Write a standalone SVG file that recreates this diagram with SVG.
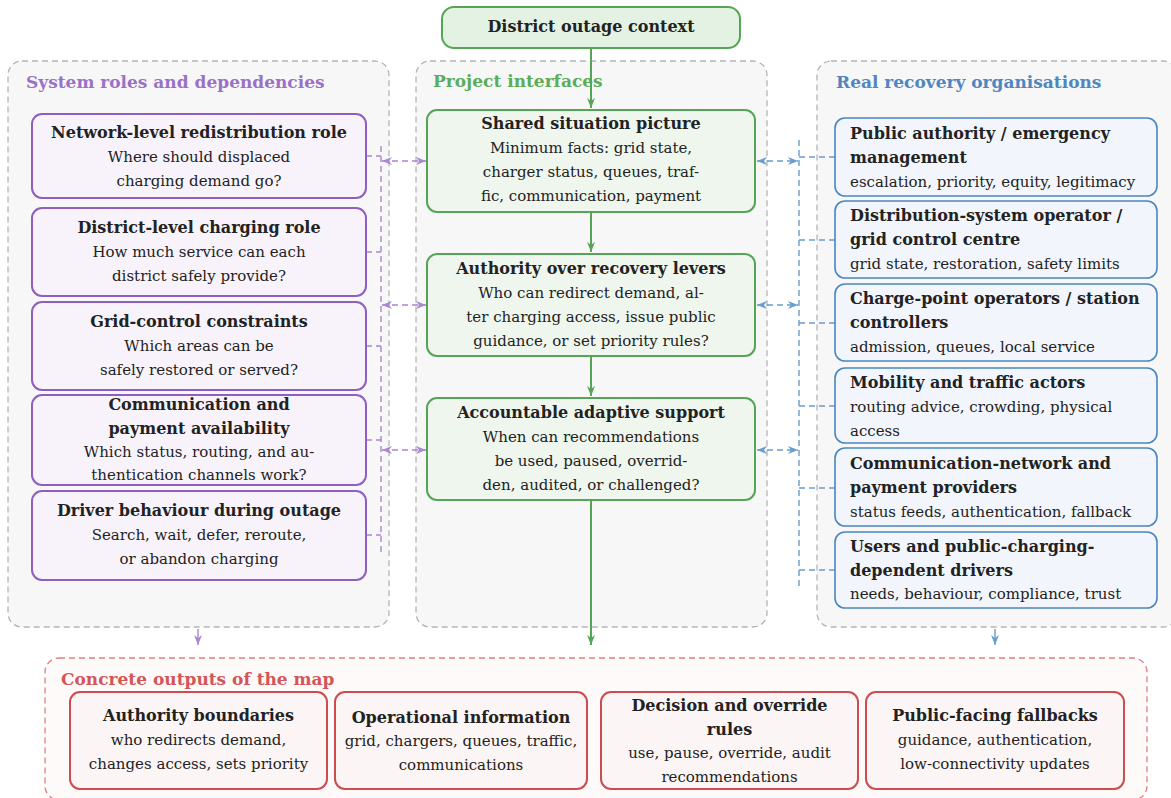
<svg xmlns="http://www.w3.org/2000/svg" width="1171" height="798" viewBox="0 0 1171 798">
<defs>
<style>
text{font-family:"DejaVu Serif","Liberation Serif",serif;font-size:15px;fill:#222}
.b{font-weight:bold;font-size:16px}
.c{text-anchor:middle}
.ttl{font-size:17px;font-weight:bold}
.cont{fill:#f7f7f7;stroke:#b5b5b5;stroke-width:1.3;stroke-dasharray:6 4}
.pbox{fill:#f8f3fb;stroke:#8e5fbf;stroke-width:2}
.gbox{fill:#eef6ee;stroke:#56a556;stroke-width:2}
.bbox{fill:#f2f6fc;stroke:#4a86c0;stroke-width:1.6}
.rbox{fill:#fcf5f5;stroke:#cc4d4f;stroke-width:2}
.garr{stroke:#56a556;stroke-width:2;fill:none}
.pd{stroke:#a987d2;stroke-width:1.4;fill:none;stroke-dasharray:6 4}
.bd{stroke:#6a9ccc;stroke-width:1.4;fill:none;stroke-dasharray:6 4}
</style>
<marker id="ag" viewBox="0 0 10 8" refX="10" refY="4" markerWidth="10" markerHeight="8" markerUnits="userSpaceOnUse" orient="auto-start-reverse"><path d="M0,0 L10,4 L0,8 L3,4 z" fill="#56a556"/></marker>
<marker id="ap" viewBox="0 0 10 8" refX="10" refY="4" markerWidth="10" markerHeight="8" markerUnits="userSpaceOnUse" orient="auto-start-reverse"><path d="M0,0 L10,4 L0,8 L3,4 z" fill="#a987d2"/></marker>
<marker id="ab" viewBox="0 0 10 8" refX="10" refY="4" markerWidth="10" markerHeight="8" markerUnits="userSpaceOnUse" orient="auto-start-reverse"><path d="M0,0 L10,4 L0,8 L3,4 z" fill="#6a9ccc"/></marker>
</defs>
<rect width="1171" height="798" fill="#ffffff"/>

<g id="containers">
<rect class="cont" x="8" y="61" width="381" height="566" rx="14"/>
<text class="ttl" x="26" y="88" style="fill:#9a71c6">System roles and dependencies</text>
<rect class="cont" x="416" y="61" width="351" height="566" rx="14"/>
<text class="ttl" x="433" y="87" style="fill:#5aad5a">Project interfaces</text>
<rect class="cont" x="817" y="61" width="360" height="566" rx="14"/>
<text class="ttl" x="836" y="88" style="fill:#4f86c0">Real recovery organisations</text>
<rect x="45" y="658" width="1102" height="142" rx="14" fill="#fefafa" stroke="#e07d7f" stroke-width="1.3" stroke-dasharray="6 4"/>
<text class="ttl" x="61" y="685" style="fill:#d45557">Concrete outputs of the map</text>
</g>

<g id="connectors">
<line class="garr" x1="591" y1="48" x2="591" y2="108" marker-end="url(#ag)"/>
<line class="garr" x1="591" y1="212" x2="591" y2="252" marker-end="url(#ag)"/>
<line class="garr" x1="591" y1="356" x2="591" y2="396" marker-end="url(#ag)"/>
<line class="garr" x1="591" y1="500" x2="591" y2="645" marker-end="url(#ag)"/>
<path class="pd" d="M381,146 V552 M366,156 H381 M366,252 H381 M366,346 H381 M366,440 H381 M366,535 H381"/>
<line class="pd" x1="382" y1="161" x2="426" y2="161" marker-start="url(#ap)" marker-end="url(#ap)"/>
<line class="pd" x1="382" y1="305" x2="426" y2="305" marker-start="url(#ap)" marker-end="url(#ap)"/>
<line class="pd" x1="382" y1="450" x2="426" y2="450" marker-start="url(#ap)" marker-end="url(#ap)"/>
<path class="bd" d="M799,140 V588 M799,157 H835 M799,240 H835 M799,323 H835 M799,406 H835 M799,488 H835 M799,570 H835"/>
<line class="bd" x1="757" y1="161" x2="798" y2="161" marker-start="url(#ab)" marker-end="url(#ab)"/>
<line class="bd" x1="757" y1="305" x2="798" y2="305" marker-start="url(#ab)" marker-end="url(#ab)"/>
<line class="bd" x1="757" y1="450" x2="798" y2="450" marker-start="url(#ab)" marker-end="url(#ab)"/>
<line x1="198" y1="629" x2="198" y2="645" stroke="#a987d2" stroke-width="1.4" marker-end="url(#ap)"/>
<line x1="995" y1="629" x2="995" y2="645" stroke="#6a9ccc" stroke-width="1.4" marker-end="url(#ab)"/>
</g>

<g id="n-context">
<rect x="442" y="7" width="298" height="41" rx="12" fill="#e3f2e3" stroke="#56a556" stroke-width="2"/>
<text class="b c" x="591" y="32">District outage context</text>
</g>

<g id="n-network">
<rect class="pbox" x="32" y="114" width="334" height="84" rx="10"/>
<text class="b c" x="199" y="138">Network-level redistribution role</text>
<text class="c" x="199" y="162">Where should displaced</text>
<text class="c" x="199" y="186">charging demand go?</text>
</g>
<g id="n-district">
<rect class="pbox" x="32" y="208" width="334" height="88" rx="10"/>
<text class="b c" x="199" y="233">District-level charging role</text>
<text class="c" x="199" y="257">How much service can each</text>
<text class="c" x="199" y="281">district safely provide?</text>
</g>
<g id="n-grid">
<rect class="pbox" x="32" y="302" width="334" height="88" rx="10"/>
<text class="b c" x="199" y="327">Grid-control constraints</text>
<text class="c" x="199" y="351">Which areas can be</text>
<text class="c" x="199" y="375">safely restored or served?</text>
</g>
<g id="n-comm">
<rect class="pbox" x="32" y="395" width="334" height="90" rx="10"/>
<text class="b c" x="199" y="410">Communication and</text>
<text class="b c" x="199" y="434">payment availability</text>
<text class="c" x="199" y="457">Which status, routing, and au-</text>
<text class="c" x="199" y="480">thentication channels work?</text>
</g>
<g id="n-driver">
<rect class="pbox" x="32" y="491" width="334" height="89" rx="10"/>
<text class="b c" x="199" y="516">Driver behaviour during outage</text>
<text class="c" x="199" y="540">Search, wait, defer, reroute,</text>
<text class="c" x="199" y="564">or abandon charging</text>
</g>

<g id="n-shared">
<rect class="gbox" x="427" y="110" width="328" height="102" rx="10"/>
<text class="b c" x="591" y="129">Shared situation picture</text>
<text class="c" x="591" y="153">Minimum facts:  grid state,</text>
<text class="c" x="591" y="177">charger status, queues, traf-</text>
<text class="c" x="591" y="201">fic, communication, payment</text>
</g>
<g id="n-authority">
<rect class="gbox" x="427" y="254" width="328" height="102" rx="10"/>
<text class="b c" x="591" y="274">Authority over recovery levers</text>
<text class="c" x="591" y="298">Who can redirect demand, al-</text>
<text class="c" x="591" y="322">ter charging access, issue public</text>
<text class="c" x="591" y="346">guidance, or set priority rules?</text>
</g>
<g id="n-accountable">
<rect class="gbox" x="427" y="398" width="328" height="102" rx="10"/>
<text class="b c" x="591" y="418">Accountable adaptive support</text>
<text class="c" x="591" y="442">When can recommendations</text>
<text class="c" x="591" y="466">be used, paused, overrid-</text>
<text class="c" x="591" y="490">den, audited, or challenged?</text>
</g>

<g id="n-public">
<rect class="bbox" x="835" y="118" width="322" height="78" rx="10"/>
<text class="b" x="850" y="139">Public authority / emergency</text>
<text class="b" x="850" y="163">management</text>
<text x="850" y="187">escalation, priority, equity, legitimacy</text>
</g>
<g id="n-dso">
<rect class="bbox" x="835" y="201" width="322" height="77" rx="10"/>
<text class="b" x="850" y="221">Distribution-system operator /</text>
<text class="b" x="850" y="245">grid control centre</text>
<text x="850" y="269">grid state, restoration, safety limits</text>
</g>
<g id="n-cpo">
<rect class="bbox" x="835" y="284" width="322" height="77" rx="10"/>
<text class="b" x="850" y="304">Charge-point operators / station</text>
<text class="b" x="850" y="328">controllers</text>
<text x="850" y="352">admission, queues, local service</text>
</g>
<g id="n-mobility">
<rect class="bbox" x="835" y="368" width="322" height="75" rx="10"/>
<text class="b" x="850" y="388">Mobility and traffic actors</text>
<text x="850" y="412">routing advice, crowding, physical</text>
<text x="850" y="436">access</text>
</g>
<g id="n-commnet">
<rect class="bbox" x="835" y="448" width="322" height="78" rx="10"/>
<text class="b" x="850" y="469">Communication-network and</text>
<text class="b" x="850" y="493">payment providers</text>
<text x="850" y="517">status feeds, authentication, fallback</text>
</g>
<g id="n-users">
<rect class="bbox" x="835" y="532" width="322" height="76" rx="10"/>
<text class="b" x="850" y="552">Users and public-charging-</text>
<text class="b" x="850" y="576">dependent drivers</text>
<text x="850" y="599">needs, behaviour, compliance, trust</text>
</g>

<g id="n-out-authority">
<rect class="rbox" x="70" y="692" width="257" height="97" rx="10"/>
<text class="b c" x="198.5" y="721">Authority boundaries</text>
<text class="c" x="198.5" y="745">who redirects demand,</text>
<text class="c" x="198.5" y="769">changes access, sets priority</text>
</g>
<g id="n-out-info">
<rect class="rbox" x="335" y="692" width="252" height="97" rx="10"/>
<text class="b c" x="461" y="723">Operational information</text>
<text class="c" x="461" y="746">grid, chargers, queues, traffic,</text>
<text class="c" x="461" y="770">communications</text>
</g>
<g id="n-out-decision">
<rect class="rbox" x="601" y="692" width="257" height="97" rx="10"/>
<text class="b c" x="729.5" y="711">Decision and override</text>
<text class="b c" x="729.5" y="735">rules</text>
<text class="c" x="729.5" y="758">use, pause, override, audit</text>
<text class="c" x="729.5" y="782">recommendations</text>
</g>
<g id="n-out-public">
<rect class="rbox" x="866" y="692" width="258" height="97" rx="10"/>
<text class="b c" x="995" y="721">Public-facing fallbacks</text>
<text class="c" x="995" y="745">guidance, authentication,</text>
<text class="c" x="995" y="769">low-connectivity updates</text>
</g>
</svg>
